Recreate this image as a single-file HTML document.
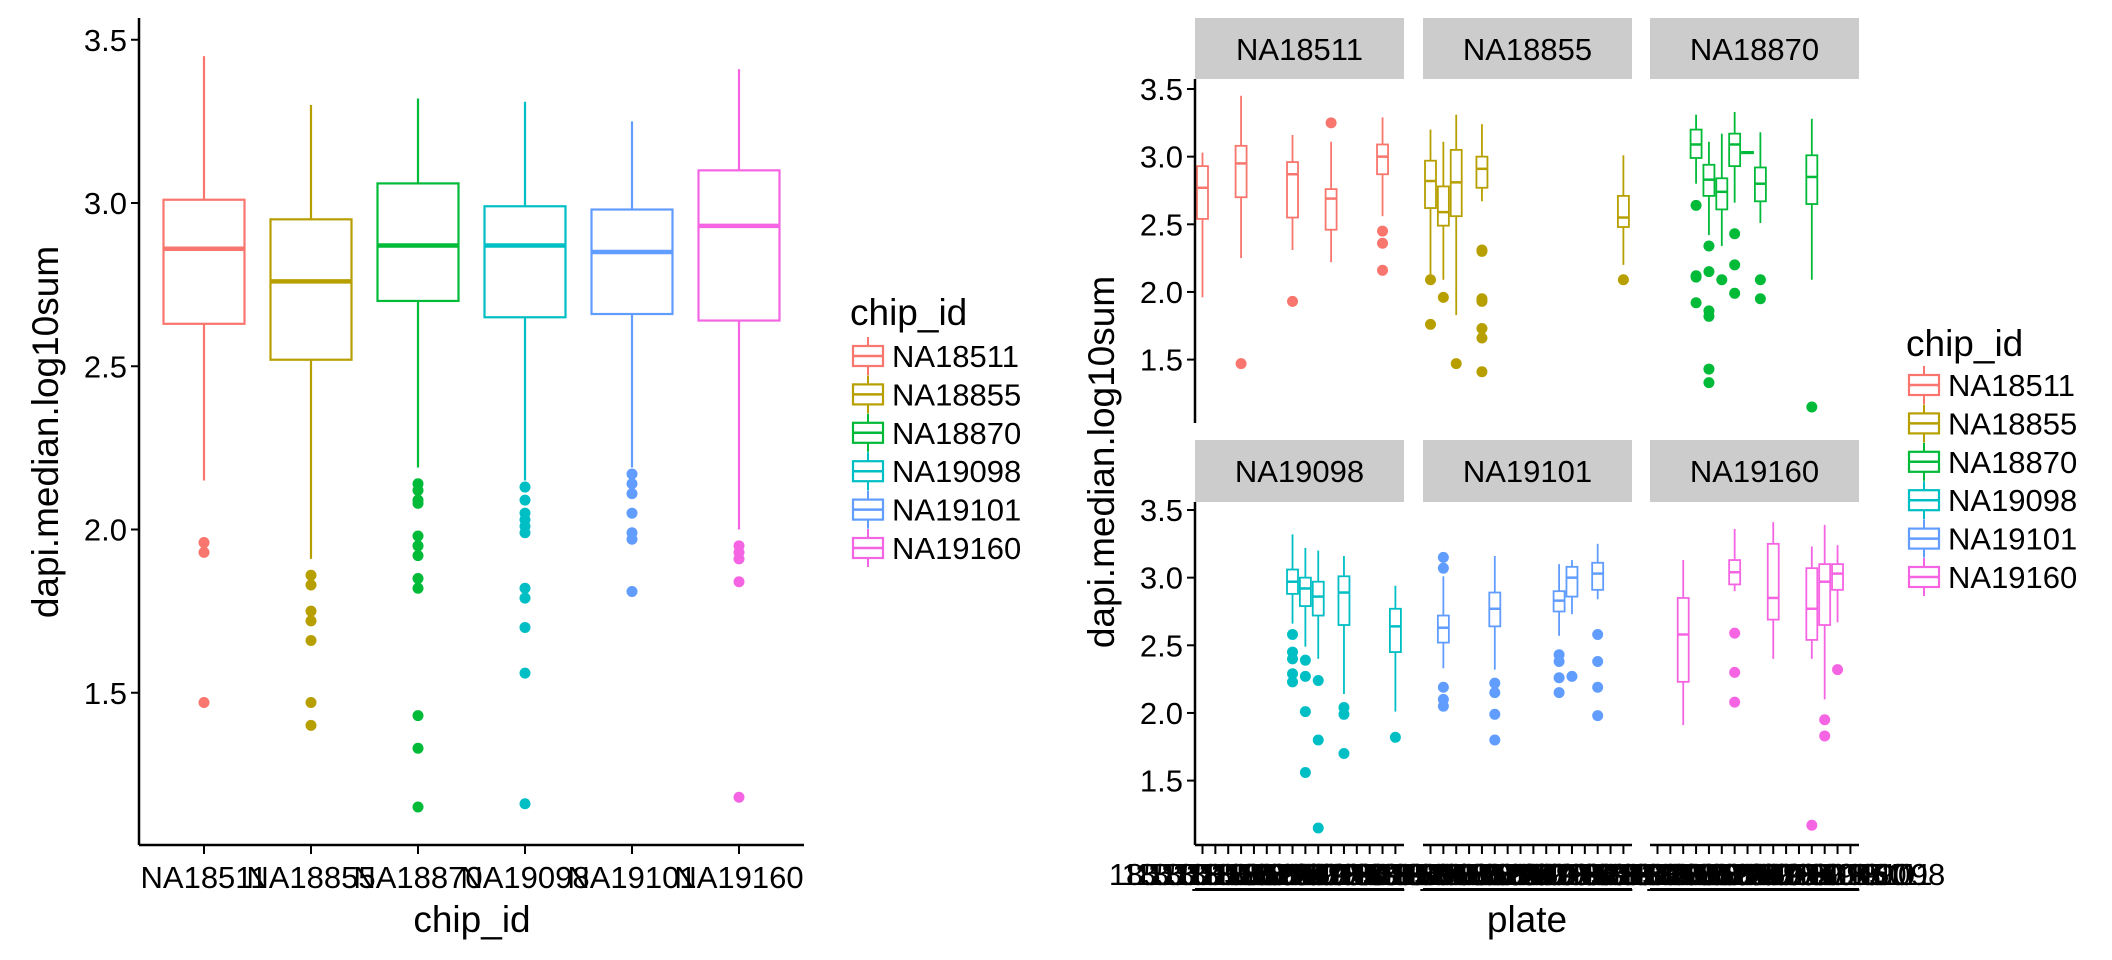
<!DOCTYPE html>
<html><head><meta charset="utf-8"><style>
html,body{margin:0;padding:0;background:#fff;}
svg{display:block;font-family:"Liberation Sans",sans-serif;}
</style></head><body>
<svg id="chart" width="2112" height="960" viewBox="0 0 2112 960" xmlns="http://www.w3.org/2000/svg"></svg>
<script>
const chips=["NA18511","NA18855","NA18870","NA19098","NA19101","NA19160"];
const colors=["#F8766D","#B79F00","#00BA38","#00BFC4","#619CFF","#F564E3"];
const yTicks=[1.5,2.0,2.5,3.0,3.5];
const yTickLabels=["1.5","2.0","2.5","3.0","3.5"];
// left panel: [top, q3, median, q1, low]
const overallStats=[[3.45,3.01,2.86,2.63,2.15],[3.30,2.95,2.76,2.52,1.91],[3.32,3.06,2.87,2.70,2.19],[3.31,2.99,2.87,2.65,2.15],[3.25,2.98,2.85,2.66,2.19],[3.41,3.10,2.93,2.64,2.00]];
const overallOutliers=[[1.96,1.93,1.47],[1.86,1.83,1.75,1.72,1.66,1.47,1.40],[2.14,2.12,2.09,2.08,1.98,1.95,1.92,1.85,1.82,1.43,1.33,1.15],[2.13,2.09,2.05,2.03,2.01,1.99,1.82,1.79,1.70,1.56,1.16],[2.17,2.14,2.11,2.05,1.99,1.97,1.81],[1.95,1.93,1.91,1.84,1.18]];
const plates=["18511_18855","18511_18870","18511_19098","18511_19101","18511_19160","18855_18870","18855_19098","18855_19101","18855_19160","18870_18511","18870_19098","18870_19101","18870_19160","19098_18511","19098_19101","19160_19098"];
// facet boxes: [plateIndex, top, q3, med, q1, low, outliers]
const facetBoxes=[
[[0,3.03,2.93,2.77,2.54,1.96,[]],[3,3.45,3.08,2.95,2.70,2.25,[1.47]],[7,3.16,2.96,2.87,2.55,2.31,[1.93]],[10,3.11,2.76,2.69,2.46,2.22,[3.25]],[14,3.29,3.09,3.00,2.87,2.56,[2.45,2.36,2.16]]],
[[0,3.20,2.97,2.82,2.62,2.09,[2.09,1.76]],[1,3.11,2.78,2.59,2.49,2.09,[1.96]],[2,3.31,3.05,2.81,2.56,1.83,[1.47]],[4,3.24,3.00,2.91,2.77,2.67,[2.31,2.30,1.95,1.93,1.73,1.66,1.41]],[15,3.01,2.71,2.55,2.48,2.20,[2.09]]],
[[3,3.31,3.20,3.09,2.99,2.80,[2.64,2.12,2.11,1.92]],[4,3.11,2.94,2.83,2.71,2.42,[2.34,2.15,1.86,1.82,1.43,1.33]],[5,3.17,2.84,2.74,2.61,2.34,[2.09]],[6,3.33,3.17,3.09,2.93,2.66,[2.43,2.20,1.99]],[7,3.04,3.035,3.03,3.025,3.02,[]],[8,3.18,2.92,2.80,2.67,2.51,[2.09,1.95]],[12,3.28,3.01,2.85,2.65,2.09,[1.15]]],
[[7,3.32,3.06,2.97,2.88,2.66,[2.58,2.45,2.40,2.29,2.23]],[8,3.22,3.00,2.92,2.79,2.49,[2.39,2.27,2.01,1.56]],[9,3.20,2.97,2.86,2.72,2.40,[2.24,1.80,1.15]],[11,3.16,3.01,2.89,2.65,2.14,[2.04,1.99,1.70]],[15,2.94,2.77,2.64,2.45,2.01,[1.82]]],
[[1,3.01,2.72,2.63,2.52,2.33,[3.15,3.07,2.19,2.10,2.05]],[5,3.16,2.89,2.77,2.64,2.32,[2.22,2.15,1.99,1.80]],[10,3.10,2.90,2.83,2.75,2.57,[2.43,2.38,2.26,2.15]],[11,3.13,3.08,3.00,2.86,2.73,[2.27]],[13,3.25,3.11,3.03,2.91,2.84,[2.58,2.38,2.19,1.98]]],
[[2,3.13,2.85,2.58,2.23,1.91,[]],[6,3.36,3.13,3.04,2.95,2.90,[2.59,2.30,2.08]],[9,3.41,3.25,2.85,2.69,2.40,[]],[12,3.23,3.07,2.77,2.54,2.40,[1.17]],[13,3.39,3.10,2.97,2.65,2.10,[1.95,1.83]],[14,3.24,3.10,3.03,2.91,2.67,[2.32]]]
];
const svg=document.getElementById('chart');
const NS="http://www.w3.org/2000/svg";
function mk(tag,attrs,parent,name){const e=document.createElementNS(NS,tag);for(const k in attrs)e.setAttribute(k,attrs[k]);


(parent||svg).appendChild(e);return e;}
function txt(s,attrs,parent,name){const e=mk('text',attrs,parent,name);e.textContent=s;return e;}

function drawBox(g,cx,w,st,yf,col,lw,mlw){
  const [top,q3,med,q1,low]=st;
  mk('line',{x1:cx,x2:cx,y1:yf(top),y2:yf(q3),stroke:col,'stroke-width':lw},g,'whisker-upper');
  mk('line',{x1:cx,x2:cx,y1:yf(q1),y2:yf(low),stroke:col,'stroke-width':lw},g,'whisker-lower');
  mk('rect',{x:cx-w/2,y:yf(q3),width:w,height:Math.max(0.5,yf(q1)-yf(q3)),fill:'#fff',stroke:col,'stroke-width':lw},g,'box-iqr');
  mk('line',{x1:cx-w/2,x2:cx+w/2,y1:yf(med),y2:yf(med),stroke:col,'stroke-width':mlw},g,'box-median');
}

// ---------- Left panel ----------
const L={x0:139,x1:804,yb:845,yt:18};
const yL=v=>203+(3.0-v)*326.5;
const xL=i=>204+i*107;
const gl=mk('g',{},svg,'left-boxplot-panel');
chips.forEach((c,i)=>{
  const g=mk('g',{},gl,'box-'+c.toLowerCase());
  drawBox(g,xL(i),81,overallStats[i],yL,colors[i],2.2,4.5);
  overallOutliers[i].forEach(v=>mk('circle',{cx:xL(i),cy:yL(v),r:5.5,fill:colors[i]},g,'outlier-point'));
});
mk('line',{x1:L.x0,x2:L.x0,y1:L.yt,y2:L.yb,stroke:'#000','stroke-width':2.5},gl,'y-axis-line');
mk('line',{x1:L.x0,x2:L.x1,y1:L.yb,y2:L.yb,stroke:'#000','stroke-width':2.5},gl,'x-axis-line');
yTicks.forEach((t,i)=>{mk('line',{x1:L.x0-8,x2:L.x0,y1:yL(t),y2:yL(t),stroke:'#000','stroke-width':2},gl,'y-tick');
  txt(yTickLabels[i],{x:L.x0-12,y:yL(t)+11,'text-anchor':'end','font-size':31},gl,'y-tick-label');});
chips.forEach((c,i)=>{mk('line',{x1:xL(i),x2:xL(i),y1:L.yb,y2:L.yb+9,stroke:'#000','stroke-width':2},gl,'x-tick');
  txt(c,{x:xL(i),y:888,'text-anchor':'middle','font-size':31},gl,'x-tick-label');});
txt('chip_id',{x:472,y:932,'text-anchor':'middle','font-size':37},gl,'x-axis-title');
txt('dapi.median.log10sum',{x:0,y:0,'text-anchor':'middle','font-size':37,transform:'translate(58,432) rotate(-90)'},gl,'y-axis-title');

function legend(x,ty,ky0,name){
  const g=mk('g',{},svg,name);
  txt('chip_id',{x:x,y:ty,'font-size':37},g,'legend-title');
  chips.forEach((c,i)=>{const y=ky0+i*38.4;const e=mk('g',{},g,'legend-entry');
    mk('line',{x1:x+18,x2:x+18,y1:y-19,y2:y+19,stroke:colors[i],'stroke-width':2},e,'legend-key-whisker');
    mk('rect',{x:x+3,y:y-10,width:30,height:20,fill:'#fff',stroke:colors[i],'stroke-width':2.2},e,'legend-key-box');
    mk('line',{x1:x+3,x2:x+33,y1:y,y2:y,stroke:colors[i],'stroke-width':2.5},e,'legend-key-median');
    txt(c,{x:x+42,y:y+11,'font-size':31},e,'legend-label');});
}
legend(850,325,356,'left-legend');

// ---------- Right faceted panel ----------
const colsX=[1195,1423,1650], PW=209;
const rows=[{st:18,sb:79,top:89,pb:423},{st:440,sb:502,top:510,pb:845}];
const xF=(c,k)=>colsX[c]+7.5+k*12.86;
const gr=mk('g',{},svg,'faceted-panel');
chips.forEach((c,f)=>{
  const r=Math.floor(f/3), cc=f%3, R=rows[r];
  const yf=v=>R.top+(3.5-v)*135.3;
  const g=mk('g',{},gr,'facet-'+c.toLowerCase());
  mk('rect',{x:colsX[cc],y:R.st,width:PW,height:R.sb-R.st,fill:'#cccccc'},g,'facet-strip');
  txt(c,{x:colsX[cc]+PW/2,y:R.st+42,'text-anchor':'middle','font-size':31},g,'facet-strip-label');
  facetBoxes[f].forEach(b=>{
    const cx=xF(cc,b[0]);
    drawBox(g,cx,11,b.slice(1,6),yf,colors[f],1.8,2.5);
    b[6].forEach(v=>mk('circle',{cx:cx,cy:yf(v),r:5.5,fill:colors[f]},g,'outlier-point'));
  });
  if(cc===0){
    mk('line',{x1:colsX[0],x2:colsX[0],y1:R.sb,y2:R.pb,stroke:'#000','stroke-width':2.5},g,'y-axis-line');
    yTicks.forEach((t,i)=>{mk('line',{x1:colsX[0]-8,x2:colsX[0],y1:yf(t),y2:yf(t),stroke:'#000','stroke-width':2},g,'y-tick');
      txt(yTickLabels[i],{x:colsX[0]-12,y:yf(t)+11,'text-anchor':'end','font-size':31},g,'y-tick-label');});
  }
  if(r===1){
    mk('line',{x1:colsX[cc],x2:colsX[cc]+PW,y1:845,y2:845,stroke:'#000','stroke-width':2.5},g,'x-axis-line');
    plates.forEach((p,k)=>{mk('line',{x1:xF(cc,k),x2:xF(cc,k),y1:845,y2:854,stroke:'#000','stroke-width':2},g,'x-tick');
      txt(p,{x:xF(cc,k),y:885,'text-anchor':'middle','font-size':31},g,'x-tick-label');});
    mk('line',{x1:colsX[cc],x2:colsX[cc]+PW,y1:889,y2:889,stroke:'#000','stroke-width':2},g,'x-label-underline');
  }
});
txt('plate',{x:1527,y:932,'text-anchor':'middle','font-size':37},gr,'x-axis-title');
txt('dapi.median.log10sum',{x:0,y:0,'text-anchor':'middle','font-size':37,transform:'translate(1114,462) rotate(-90)'},gr,'y-axis-title');
legend(1906,356,385,'right-legend');
</script>
</body></html>
